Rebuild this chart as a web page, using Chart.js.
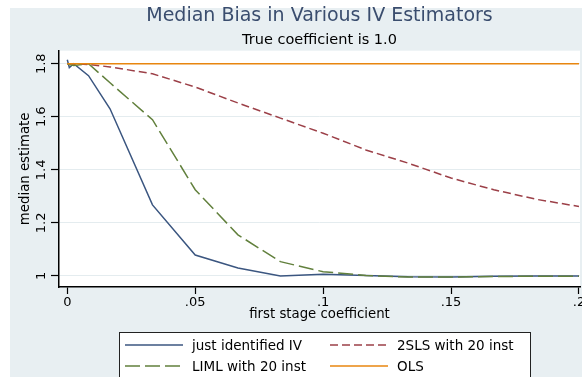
<!DOCTYPE html>
<html>
<head>
<meta charset="utf-8">
<style>
  html, body { margin: 0; padding: 0; background: #fff; }
  canvas { display: block; }
</style>
</head>
<body>
<canvas id="biasChart" width="582" height="377"></canvas>
<script src="https://cdn.jsdelivr.net/npm/chart.js"></script>
<script>
// first stage coefficient (x) and the median estimate of each estimator
const firstStage = [0, 0.0008, 0.0025, 0.0083, 0.0167, 0.0333, 0.05, 0.0667, 0.0833, 0.1, 0.1167, 0.1333, 0.15, 0.1667, 0.1833, 0.2];
const justIdentified = [1.815, 1.785, 1.80, 1.755, 1.63, 1.268, 1.079, 1.03, 1.0, 1.007, 1.002, 0.997, 0.996, 0.999, 1.0, 1.0];
const tsls20 = [1.80, 1.80, 1.80, 1.797, 1.788, 1.762, 1.712, 1.652, 1.595, 1.538, 1.475, 1.425, 1.369, 1.325, 1.289, 1.262];
const liml20 = [1.80, 1.797, 1.793, 1.80, 1.728, 1.589, 1.325, 1.155, 1.054, 1.016, 1.002, 0.996, 0.996, 0.998, 0.999, 0.999];
const ols = [1.8, 1.8, 1.8, 1.8, 1.8, 1.8, 1.8, 1.8, 1.8, 1.8, 1.8, 1.8, 1.8, 1.8, 1.8, 1.8];

const xTicks = [0, 0.05, 0.1, 0.15, 0.2];
const yTicks = [1, 1.2, 1.4, 1.6, 1.8];

Chart.defaults.font.family = '"DejaVu Sans", sans-serif';
Chart.defaults.color = '#000';

function points(ys) {
    return firstStage.map((x, i) => ({ x: x, y: ys[i] }));
}

// gray outer region + white plot region, like the stata s2color scheme
const stataFrame = {
    id: 'stataFrame',
    beforeDraw(chart) {
        const { ctx, chartArea: a } = chart;
        ctx.save();
        ctx.fillStyle = '#e8eff2';
        ctx.fillRect(10, 8, chart.width - 10, chart.height - 8);
        ctx.fillStyle = '#fff';
        ctx.fillRect(a.left, a.top, a.right - a.left, a.bottom - a.top);
        ctx.restore();
    }
};

// boxed legend, two columns
const boxLegend = {
    id: 'boxLegend',
    afterDraw(chart) {
        const ctx = chart.ctx;
        const left = 119, top = 332, right = 530;
        ctx.save();
        ctx.fillStyle = '#fff';
        ctx.fillRect(left, top, right - left, chart.height - top);
        ctx.strokeStyle = '#222';
        ctx.lineWidth = 1;
        ctx.strokeRect(left + 0.5, top + 0.5, right - left, chart.height - top + 10);
        ctx.font = '13.5px "DejaVu Sans"';
        ctx.fillStyle = '#000';
        chart.data.datasets.forEach((ds, i) => {
            const col = i % 2, row = Math.floor(i / 2);
            const x0 = 125 + col * 205;
            const y = 345 + row * 21;
            ctx.strokeStyle = ds.borderColor;
            ctx.lineWidth = ds.borderWidth;
            ctx.setLineDash(ds.borderDash || []);
            ctx.beginPath();
            ctx.moveTo(x0, y);
            ctx.lineTo(x0 + 58, y);
            ctx.stroke();
            ctx.fillText(ds.label, x0 + 67, y + 4.5);
        });
        ctx.restore();
    }
};

const ctx = document.getElementById('biasChart').getContext('2d');
const biasChart = new Chart(ctx, {
    type: 'line',
    data: {
        datasets: [
            { label: 'just identified IV', data: points(justIdentified), borderColor: '#3b5680', borderWidth: 1.5, order: 4 },
            { label: '2SLS with 20 inst', data: points(tsls20), borderColor: '#9c4048', borderWidth: 1.5, borderDash: [8, 4], order: 3 },
            { label: 'LIML with 20 inst', data: points(liml20), borderColor: '#62803d', borderWidth: 1.5, borderDash: [15, 5], order: 2 },
            { label: 'OLS', data: points(ols), borderColor: '#e8860f', borderWidth: 1.5, order: 1 }
        ]
    },
    options: {
        responsive: false,
        animation: false,
        devicePixelRatio: 1,
        elements: { point: { radius: 0 }, line: { tension: 0 } },
        layout: { padding: { left: 10, right: 2, top: 0, bottom: 48 } },
        plugins: {
            legend: { display: false },
            tooltip: { enabled: false },
            title: {
                display: true,
                text: 'Median Bias in Various IV Estimators',
                fullSize: false,
                color: '#3a4d6e',
                font: { size: 19, weight: 'normal' },
                padding: { top: 5, bottom: 2 }
            },
            subtitle: {
                display: true,
                text: 'True coefficient is 1.0',
                fullSize: false,
                color: '#000',
                font: { size: 14.5 },
                padding: { top: 1.5, bottom: 2 }
            }
        },
        scales: {
            x: {
                type: 'linear',
                min: -0.00324,
                max: 0.2004,
                afterBuildTicks: s => { s.ticks = xTicks.map(v => ({ value: v })); },
                afterFit: s => { s.height = 42; s.paddingLeft = 0; s.paddingRight = 0; },
                ticks: {
                    autoSkip: false,
                    maxRotation: 0,
                    padding: 1,
                    font: { size: 13 },
                    callback: v => v === 0 ? '0' : String(v).replace(/^0/, '')
                },
                grid: { drawOnChartArea: false, tickLength: 7, tickColor: '#000', tickWidth: 1.2 },
                border: { color: '#000', width: 1.5 },
                title: {
                    display: true,
                    text: 'first stage coefficient',
                    font: { size: 13.3 },
                    padding: { top: 0, bottom: 6 }
                }
            },
            y: {
                min: 0.9585,
                max: 1.849,
                afterBuildTicks: s => { s.ticks = yTicks.map(v => ({ value: v })); },
                afterFit: s => { s.width = 49; s.paddingTop = 0; s.paddingBottom = 0; },
                ticks: {
                    minRotation: 90,
                    maxRotation: 90,
                    crossAlign: 'center',
                    padding: -1,
                    font: { size: 13 },
                    callback: v => String(v)
                },
                grid: { color: '#e4ecef', lineWidth: 1, tickLength: 8, tickColor: '#000', tickWidth: 1.2 },
                border: { color: '#000', width: 1.5 },
                title: {
                    display: true,
                    text: 'median estimate',
                    font: { size: 13.3 },
                    padding: { top: 8, bottom: 0 }
                }
            }
        }
    },
    plugins: [stataFrame, boxLegend]
});
</script>
</body>
</html>
